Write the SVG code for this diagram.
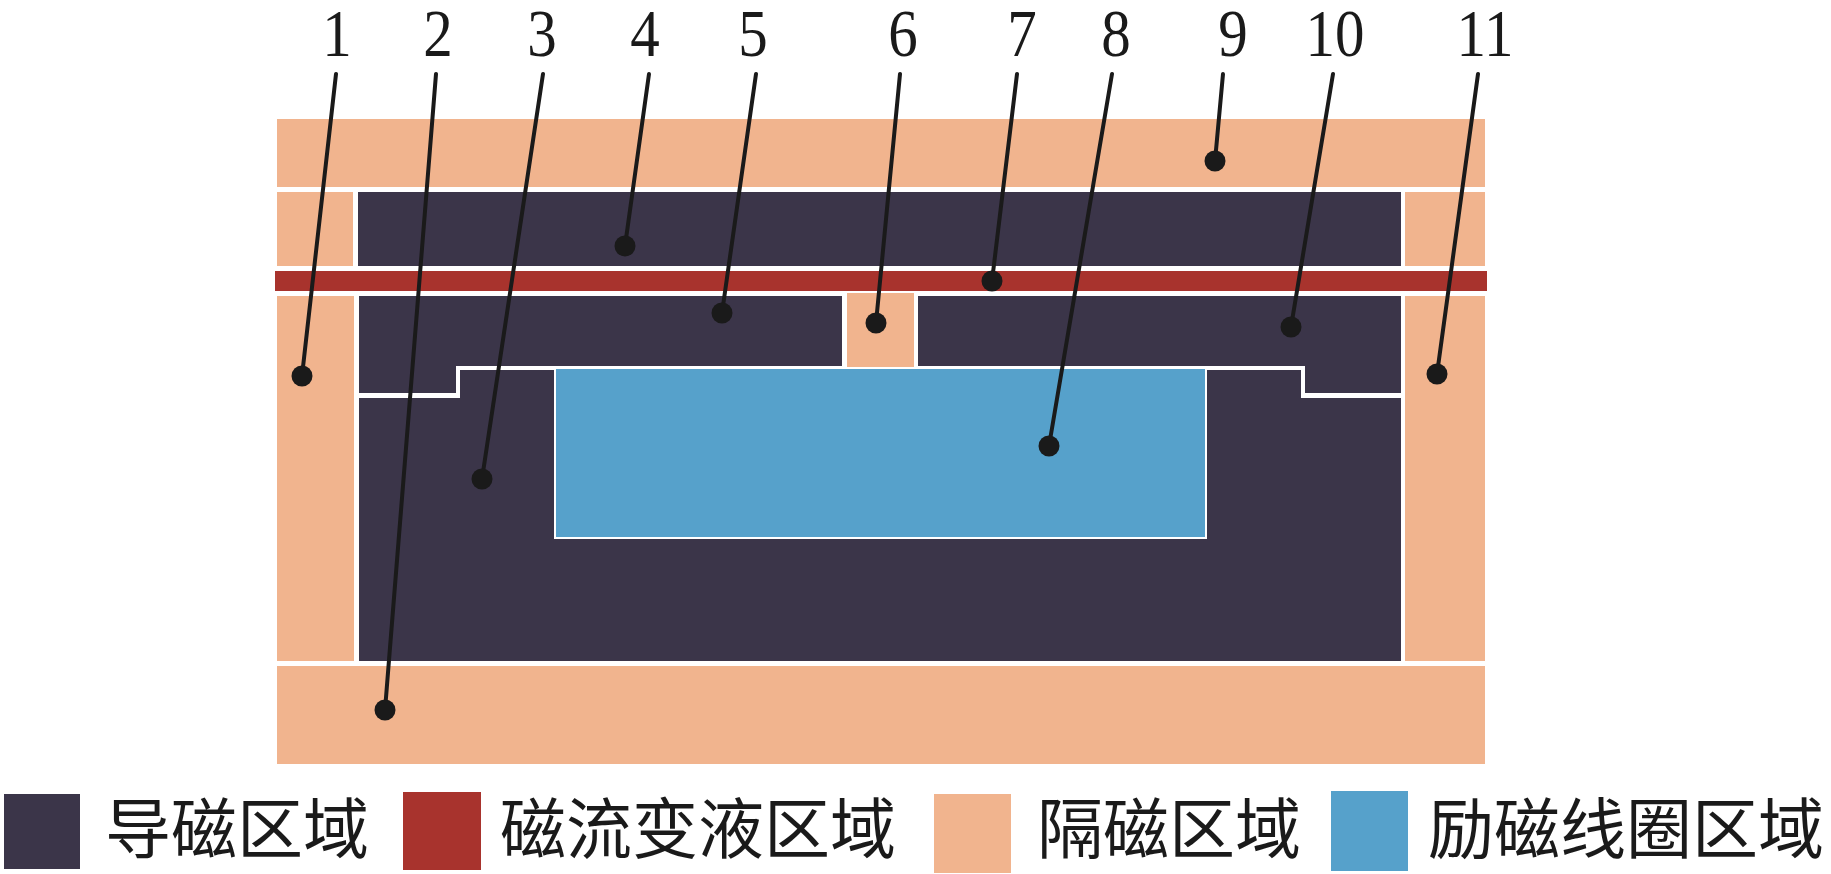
<svg xmlns="http://www.w3.org/2000/svg" width="1831" height="874" viewBox="0 0 1831 874">
<style>
.dk{fill:#3b3549}
.rd{fill:#a8332d}
.or{fill:#f1b48e}
.bl{fill:#56a1cb}
.num{font-family:"Liberation Serif","Times New Roman",serif;font-size:67px;fill:#1a1a1a;text-anchor:middle}
.lg{font-family:"Noto Sans CJK SC","Noto Sans",sans-serif;font-size:66px;fill:#1a1a1a}
.ld{stroke:#1a1a1a;stroke-width:4;stroke-linecap:round;fill:none}
.dot{fill:#1a1a1a}
</style>
<rect width="1831" height="874" fill="#ffffff"/>
<g id="n9"><rect class="or" x="277" y="119" width="1208" height="68"/></g>
<g id="iso-upper"><rect class="or" x="277" y="192" width="76" height="74"/><rect class="or" x="1405" y="192" width="80" height="74"/></g>
<g id="n4"><rect class="dk" x="358" y="192" width="1043" height="74"/></g>
<g id="n7"><rect class="rd" x="275" y="271" width="1212" height="20"/></g>
<g id="n1"><rect class="or" x="277" y="296" width="77" height="365"/></g>
<g id="n11"><rect class="or" x="1405" y="296" width="80" height="365"/></g>
<g id="n5"><polygon class="dk" points="359,296 842,296 842,366 456,366 456,393 359,393"/></g>
<g id="n6"><rect class="or" x="847" y="293" width="67" height="74"/></g>
<g id="n10"><polygon class="dk" points="918,296 1401,296 1401,393 1305,393 1305,366 918,366"/></g>
<g id="n3"><polygon class="dk" points="359,398 460,398 460,370 1301,370 1301,398 1401,398 1401,661 359,661"/><rect fill="#ffffff" x="554" y="368" width="653" height="171"/></g>
<g id="n8"><rect class="bl" x="556" y="369" width="649" height="168"/></g>
<g id="n2"><rect class="or" x="277" y="666" width="1208" height="98"/></g>
<g id="labels">
<text class="num" transform="translate(337,56) scale(0.88,1)">1</text>
<text class="num" transform="translate(438,56) scale(0.88,1)">2</text>
<text class="num" transform="translate(542,56) scale(0.88,1)">3</text>
<text class="num" transform="translate(645,56) scale(0.88,1)">4</text>
<text class="num" transform="translate(753,56) scale(0.88,1)">5</text>
<text class="num" transform="translate(903,56) scale(0.88,1)">6</text>
<text class="num" transform="translate(1022,56) scale(0.88,1)">7</text>
<text class="num" transform="translate(1116,56) scale(0.88,1)">8</text>
<text class="num" transform="translate(1233,56) scale(0.88,1)">9</text>
<text class="num" transform="translate(1335,56) scale(0.88,1)">10</text>
<text class="num" transform="translate(1485,56) scale(0.88,1)">11</text>
</g>
<g id="connectors">
<line class="ld" x1="336" y1="74" x2="302" y2="376"/>
<line class="ld" x1="436" y1="74" x2="385" y2="710"/>
<line class="ld" x1="543" y1="74" x2="482" y2="479"/>
<line class="ld" x1="649" y1="74" x2="625" y2="246"/>
<line class="ld" x1="756" y1="74" x2="722" y2="313"/>
<line class="ld" x1="900" y1="74" x2="876" y2="323"/>
<line class="ld" x1="1017" y1="74" x2="992" y2="281"/>
<line class="ld" x1="1112" y1="74" x2="1049" y2="446"/>
<line class="ld" x1="1223" y1="74" x2="1215" y2="161"/>
<line class="ld" x1="1333" y1="74" x2="1291" y2="327"/>
<line class="ld" x1="1478" y1="74" x2="1437" y2="374"/>
<circle class="dot" cx="302" cy="376" r="10.5"/>
<circle class="dot" cx="385" cy="710" r="10.5"/>
<circle class="dot" cx="482" cy="479" r="10.5"/>
<circle class="dot" cx="625" cy="246" r="10.5"/>
<circle class="dot" cx="722" cy="313" r="10.5"/>
<circle class="dot" cx="876" cy="323" r="10.5"/>
<circle class="dot" cx="992" cy="281" r="10.5"/>
<circle class="dot" cx="1049" cy="446" r="10.5"/>
<circle class="dot" cx="1215" cy="161" r="10.5"/>
<circle class="dot" cx="1291" cy="327" r="10.5"/>
<circle class="dot" cx="1437" cy="374" r="10.5"/>
</g>
<g id="legend">
<rect class="dk" x="4" y="794" width="76" height="75"/>
<text class="lg" x="105" y="853">导磁区域</text>
<rect class="rd" x="403" y="792" width="78" height="78"/>
<text class="lg" x="500" y="853">磁流变液区域</text>
<rect class="or" x="934" y="794" width="77" height="79"/>
<text class="lg" x="1037" y="853">隔磁区域</text>
<rect class="bl" x="1331" y="791" width="77" height="80"/>
<text class="lg" x="1428" y="853">励磁线圈区域</text>
</g>
</svg>
